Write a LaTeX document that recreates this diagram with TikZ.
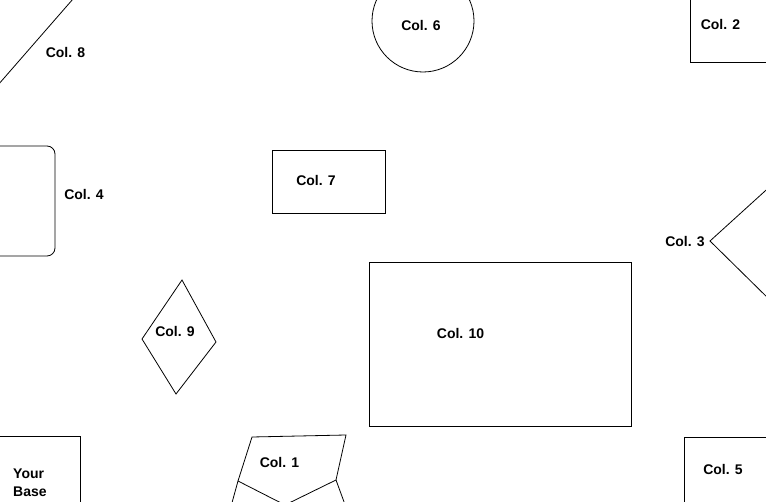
\documentclass[tikz,border=0pt]{standalone}
\usepackage{fontspec}
\setmainfont{Liberation Sans}
\begin{document}
\begin{tikzpicture}[
    x=1pt, y=-1pt,
    lbl/.style  = {font=\bfseries\fontsize{14}{18}\selectfont, inner sep=0pt},
    wall/.style = {draw=black, line width=0.8pt}
]
\useasboundingbox (0,0) rectangle (766,502);
\fill[white] (0,0) rectangle (766,502);

% ========= shapes =========
\begin{scope}
  \clip (0,0) rectangle (766,502);
  \draw[wall] (-2,85) -- (73,-1);                                   % col 8
  \draw[wall] (423,21) circle[radius=51];                           % col 6
  \draw[wall] (690,-5) -- (690,62) -- (775,62);                     % col 2
  \draw[wall, rounded corners=8pt] (-20,146) -- (55,146) -- (55,256) -- (-20,256); % col 4
  \draw[wall] (272,150) rectangle (385,213);                        % col 7
  \draw[wall] (775,182) -- (710,241) -- (775,305);                  % col 3
  \draw[wall] (182,280) -- (216,342) -- (176,394) -- (142,339) -- cycle; % col 9
  \draw[wall] (369,262) rectangle (631,426);                        % col 10
  \draw[wall] (-5,436) -- (80,436) -- (80,510);                     % base
  \draw[wall] (238,481) -- (252,437) -- (346,435) -- (336,480)
              -- (285,505) -- cycle;                                % col 1
  \draw[wall] (238,481) -- (230,510);
  \draw[wall] (336,480) -- (347,510);
  \draw[wall] (684,510) -- (684,437) -- (775,437);                  % col 5
\end{scope}

% ========= labels =========
\node[lbl] (c8)  at (65.5,53)  {Col. 8};
\node[lbl] (c6)  at (421,26)   {Col. 6};
\node[lbl] (c2)  at (720.5,25) {Col. 2};
\node[lbl] (c4)  at (84,194)   {Col. 4};
\node[lbl] (c7)  at (316,180)  {Col. 7};
\node[lbl] (c3)  at (685,242)  {Col. 3};
\node[lbl] (c9)  at (175,331)  {Col. 9};
\node[lbl] (c10) at (460.5,333){Col. 10};
\node[lbl] (c1)  at (279.5,462){Col. 1};
\node[lbl] (c5)  at (723,469)  {Col. 5};
\node[lbl, align=left, anchor=north west] (base) at (13,469) {Your\\Base};
\end{tikzpicture}
\end{document}
